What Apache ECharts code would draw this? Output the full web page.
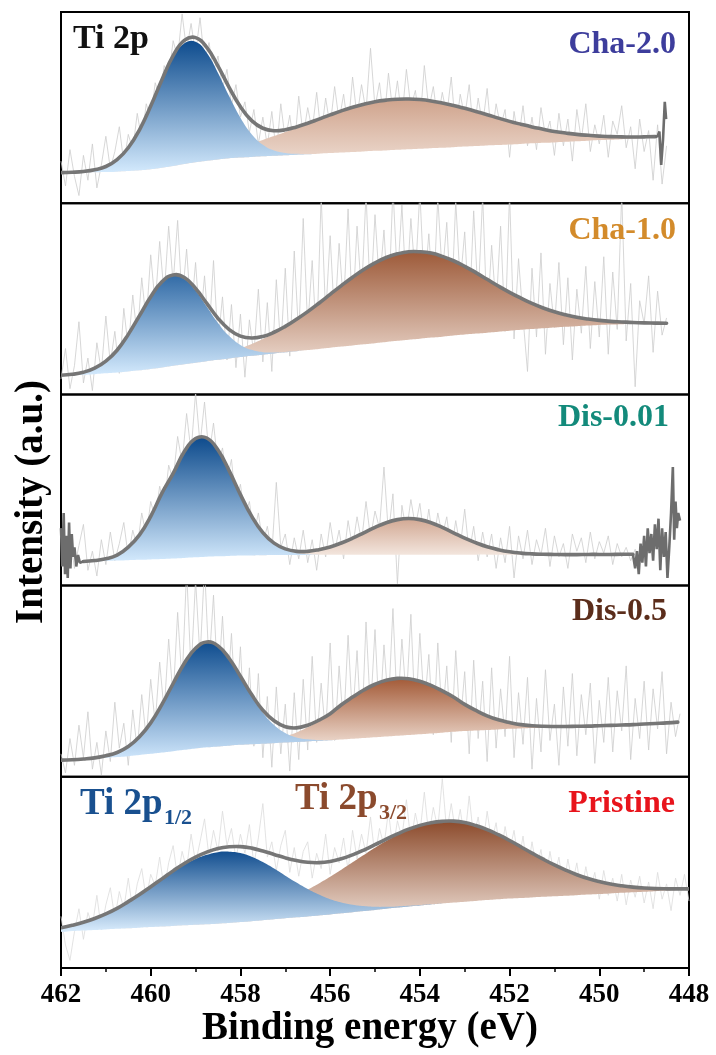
<!DOCTYPE html>
<html><head><meta charset="utf-8">
<script src="https://cdn.jsdelivr.net/npm/echarts@6/dist/echarts.min.js"></script>
<style>html,body{margin:0;padding:0;background:#fff}#c{width:716px;height:1055px}</style>
</head><body><div id="c"></div><script>
// ---------- x grids (binding energy, eV) ----------
const fitX = [462,461.75,461.5,461.25,461,460.75,460.5,460.25,460,459.75,459.5,459.25,459,458.75,458.5,458.25,458,457.75,457.5,457.25,457,456.75,456.5,456.25,456,455.75,455.5,455.25,455,454.75,454.5,454.25,454,453.75,453.5,453.25,453,452.75,452.5,452.25,452,451.75,451.5,451.25,451,450.75,450.5,450.25,450,449.75,449.5,449.25,449,448.75,448.5,448.25,448];
const rawX = [462.0,461.9,461.8,461.7,461.6,461.5,461.4,461.3,461.2,461.1,
461.0,460.9,460.8,460.7,460.6,460.5,460.4,460.3,460.2,460.1,
460.0,459.9,459.8,459.7,459.6,459.5,459.4,459.3,459.2,459.1,
459.0,458.9,458.8,458.7,458.6,458.5,458.4,458.3,458.2,458.1,
458.0,457.9,457.8,457.7,457.6,457.5,457.4,457.3,457.2,457.1,
457.0,456.9,456.8,456.7,456.6,456.5,456.4,456.3,456.2,456.1,
456.0,455.9,455.8,455.7,455.6,455.5,455.4,455.3,455.2,455.1,
455.0,454.9,454.8,454.7,454.6,454.5,454.4,454.3,454.2,454.1,
454.0,453.9,453.8,453.7,453.6,453.5,453.4,453.3,453.2,453.1,
453.0,452.9,452.8,452.7,452.6,452.5,452.4,452.3,452.2,452.1,
452.0,451.9,451.8,451.7,451.6,451.5,451.4,451.3,451.2,451.1,
451.0,450.9,450.8,450.7,450.6,450.5,450.4,450.3,450.2,450.1,
450.0,449.9,449.8,449.7,449.6,449.5,449.4,449.3,449.2,449.1,
449.0,448.9,448.8,448.7,448.6,448.5,448.4,448.3,448.2,448.1,
448.0];
const xTicks = [462,460,458,456,454,452,450,448];

// ---------- Cha-2.0 ----------
const cha20Bg = [16.0,16.1,16.1,16.2,16.3,16.5,16.8,17.2,17.8,18.6,19.5,20.5,21.4,22.2,22.9,23.5,23.9,24.2,24.5,24.8,25.1,25.4,25.6,25.9,26.2,26.5,26.8,27.1,27.4,27.6,27.9,28.2,28.5,28.8,29.0,29.3,29.6,29.9,30.2,30.4,30.7,31.0,31.3,31.6,31.8,32.1,32.4,32.7,33.0,33.2,33.5,33.8,34.1,34.4,null,null,null];
const cha20Blue = [0,0.1,0.4,1.2,2.8,6.1,11.9,20.8,32.4,45.2,56.5,63.1,63.1,56.5,45.2,32.4,20.8,11.9,6.1,2.8,1.2,0.4,0.1,0,0,0,0,0,0,0,0,0,0,0,0,0,0,0,0,0,0,0,0,0,0,0,0,0,0,0,0,0,0,0,null,null,null];
const cha20Brown = [0,0,0.1,0.1,0.1,0.2,0.3,0.4,0.6,0.8,1.2,1.6,2.1,2.8,3.6,4.6,5.7,7.1,8.6,10.3,12.1,14.1,16.1,18.1,20.0,21.8,23.4,24.7,25.7,26.3,26.5,26.3,25.7,24.7,23.4,21.8,20.0,18.1,16.1,14.1,12.1,10.3,8.6,7.1,5.7,4.6,3.6,2.8,2.1,1.6,1.2,0.8,0.6,0.4,null,null,null];
const cha20Fit = [16.0,16.2,16.6,17.5,19.2,22.8,29.0,38.4,50.8,64.6,77.2,85.2,86.6,81.5,71.7,60.5,50.4,43.2,39.2,37.9,38.4,39.9,41.8,44.0,46.2,48.3,50.2,51.8,53.1,53.9,54.4,54.5,54.2,53.5,52.4,51.1,49.6,48.0,46.3,44.5,42.8,41.3,39.9,38.7,37.5,36.7,36.0,35.5,35.1,34.8,34.7,34.6,34.7,34.8,null,null,null];
const cha20Tail = [[448.75,34.8],[448.7,35.0],[448.66,37.5],[448.62,20],[448.58,33],[448.54,53],[448.51,44]];
const cha20Raw = [22,9,28,14,4,25,12,31,8,20,
35,18,27,40,21,36,28,47,33,52,
44,63,55,72,66,85,76,99,80,94,
78,97,74,84,69,77,60,70,51,62,
45,53,37,49,31,45,30,48,26,52,
33,46,28,56,35,50,38,58,36,55,
40,61,43,57,39,66,45,62,48,81,
50,63,42,68,47,64,44,70,50,59,
41,72,49,61,43,58,46,66,38,57,
45,62,36,55,41,60,34,52,40,49,
24,48,33,51,30,45,28,50,35,43,
25,47,30,44,22,49,33,52,27,41,
31,46,24,43,36,51,29,40,18,44,
27,38,12,41,10,30];

// ---------- Cha-1.0 ----------
const cha10Bg = [9.8,10.0,10.3,10.6,11.0,11.4,12.0,12.6,13.3,14.1,15.0,15.8,16.6,17.4,18.1,18.8,19.5,20.2,20.8,21.4,22.0,22.6,23.2,23.8,24.4,25.0,25.6,26.2,26.8,27.4,28.0,28.6,29.1,29.7,30.2,30.8,31.3,31.8,32.3,32.8,33.3,33.8,34.2,34.6,35.0,35.4,35.7,36.0,36.3,36.5,36.7,36.8,36.9,37.0,37.0,null,null];
const cha10Blue = [0.2,0.5,1.3,3.1,6.4,11.7,19.3,28.5,37.6,44.5,47,44.5,37.6,28.5,19.3,11.7,6.4,3.1,1.3,0.5,0.2,0.1,0,0,0,0,0,0,0,0,0,0,0,0,0,0,0,0,0,0,0,0,0,0,0,0,0,0,0,0,0,0,0,0,0,null,null];
const cha10Brown = [0,0,0,0,0,0,0.1,0.1,0.2,0.3,0.5,0.8,1.2,1.7,2.4,3.4,4.6,6.2,8.2,10.6,13.4,16.6,20.1,23.9,27.9,31.9,35.7,39.1,42.0,44.2,45.5,46.0,45.5,44.2,42.0,39.1,35.7,31.9,27.9,23.9,20.1,16.6,13.4,10.6,8.2,6.2,4.6,3.4,2.4,1.7,1.2,0.8,0.5,0.3,0.2,null,null];
const cha10Fit = [10.0,10.5,11.6,13.7,17.4,23.1,31.4,41.2,51.1,58.9,62.5,61.1,55.4,47.6,39.8,33.9,30.5,29.5,30.3,32.5,35.6,39.3,43.3,47.7,52.3,56.9,61.3,65.3,68.8,71.6,73.5,74.6,74.6,73.9,72.2,69.9,67.0,63.7,60.2,56.7,53.4,50.4,47.6,45.2,43.2,41.6,40.3,39.4,38.7,38.2,37.9,37.6,37.4,37.3,37.2,null,null];
const cha10Raw = [8,24,3,15,38,6,19,2,27,12,
41,16,33,11,45,24,52,30,61,38,
73,47,80,52,88,58,91,49,76,42,
69,36,62,31,70,27,51,18,47,14,
42,9,39,21,55,17,48,12,60,24,
66,20,75,30,92,35,70,26,104,41,
83,38,79,46,97,40,88,52,105,48,
94,57,86,45,108,60,99,52,92,61,
106,55,84,48,103,62,90,44,101,58,
85,41,96,50,104,38,78,45,88,33,
105,29,71,40,12,66,30,74,21,58,
35,69,26,61,18,55,32,67,24,59,
30,72,21,64,34,105,28,58,4,49,
37,62,22,54,31,40];

// ---------- Dis-0.01 ----------
const dis001Bg = [null,null,12.5,12.7,12.9,13.1,13.3,13.5,13.7,13.9,14.2,14.5,14.8,15.1,15.3,15.5,15.7,15.8,15.9,16.0,16.0,16.0,16.0,16.1,16.1,16.1,16.1,16.1,16.1,16.1,16.1,16.1,16.1,16.1,16.1,16.1,16.1,16.2,16.2,16.2,16.2,16.2,16.2,16.2,16.2,16.2,16.2,16.3,16.3,16.3,16.4,16.4,null,null,null,null,null];
const dis001Blue = [null,null,0.1,0.4,1.1,2.8,6.8,13.0,22.5,34.5,44.5,55.6,62.1,62.1,55.6,44.5,31.9,20.5,11.7,6.0,2.8,1.1,0.4,0.1,0,0,0,0,0,0,0,0,0,0,0,0,0,0,0,0,0,0,0,0,0,0,0,0,0,0,0,0,null,null,null,null,null];
const dis001Brown = [null,null,0,0,0,0,0,0,0,0,0,0,0,0,0,0,0,0,0.1,0.2,0.4,0.8,1.5,2.6,4.1,6.2,8.7,11.5,14.3,16.8,18.4,19.0,18.4,16.8,14.3,11.5,8.7,6.2,4.1,2.6,1.5,0.8,0.4,0.2,0.1,0,0,0,0,0,0,0,null,null,null,null,null];
const dis001Fit = [null,null,12.6,13.1,14.0,15.9,20.1,26.5,36.2,48.4,58.7,70.1,76.9,77.2,70.9,60.0,47.6,36.3,27.7,22.2,19.2,17.9,17.9,18.8,20.2,22.3,24.8,27.6,30.4,32.9,34.5,35.1,34.5,32.9,30.4,27.6,24.8,22.4,20.3,18.8,17.7,17.0,16.6,16.4,16.3,16.2,16.2,16.3,16.3,16.3,16.4,16.4,null,null,null,null,null];
const dis001TailL = [[462.0,30],[461.97,10],[461.94,38],[461.91,6],[461.88,26],[461.85,4],[461.82,33],[461.79,9],[461.76,27],[461.73,15],[461.7,20],[461.66,10],[461.62,16],[461.58,12],[461.5,12.6]];
const dis001TailR = [[449.25,16.4],[449.2,9],[449.16,18],[449.12,6],[449.08,22],[449.04,12],[449.0,26],[448.96,10],[448.92,30],[448.88,17],[448.84,27],[448.8,13],[448.76,32],[448.72,19],[448.68,35],[448.64,8],[448.6,30],[448.56,15],[448.52,28],[448.48,4],[448.44,20],[448.4,38],[448.36,62],[448.33,24],[448.3,44],[448.27,30],[448.24,38],[448.2,34]];
const dis001Raw = [30,14,26,9,21,32,8,18,5,24,
11,28,13,22,33,15,29,20,38,26,
44,35,52,41,63,55,78,64,90,70,
101,74,96,68,85,63,72,55,66,43,
53,36,44,27,38,22,31,17,54,20,
27,11,25,14,29,12,24,8,27,15,
33,18,29,14,34,20,36,23,44,25,
39,30,62,27,48,1,42,28,45,31,
43,24,40,22,38,26,36,18,34,20,
40,17,31,13,28,15,27,9,25,12,
31,4,26,14,29,11,24,16,30,10,
26,15,22,9,27,18,25,12,28,14,
23,17,26,11,22,15,20,13,19,14,
16];

// ---------- Dis-0.5 ----------
const dis05Bg = [8.7,8.9,9.2,9.5,9.9,10.3,10.8,11.4,12.0,12.7,13.4,14.1,14.8,15.4,15.9,16.3,16.7,17.0,17.3,17.6,17.9,18.2,18.5,18.8,19.1,19.5,19.9,20.3,20.7,21.1,21.5,21.9,22.3,22.7,23.1,23.5,23.9,24.2,24.5,24.8,25.1,25.3,25.5,25.7,25.9,26.1,26.3,26.5,26.7,26.9,27.1,27.3,27.6,27.9,28.2,28.6,null];
const dis05Blue = [0,0,0.1,0.4,1.1,2.4,5.0,9.5,16.2,25.2,35.4,45.3,52.4,55,52.4,45.3,35.4,25.2,16.2,9.5,5.0,2.4,1.1,0.4,0.1,0,0,0,0,0,0,0,0,0,0,0,0,0,0,0,0,0,0,0,0,0,0,0,0,0,0,0,0,0,0,0,null];
const dis05Brown = [0,0,0,0,0,0,0,0,0,0,0,0,0,0.1,0.2,0.3,0.5,0.8,1.3,2.2,3.3,5.0,7.4,10.4,13.8,18.2,21.8,25.1,27.7,29.4,30,29.4,27.7,25.1,21.8,18.2,14.0,10.5,7.4,5.0,3.3,2.0,1.2,0.7,0.4,0.2,0.1,0,0,0,0,0,0,0,0,0,null];
const dis05Fit = [8.7,8.9,9.3,9.9,11.0,12.7,15.8,20.9,28.2,37.9,48.8,59.4,67.2,70.5,68.5,61.9,52.6,43.0,34.8,29.3,26.2,25.6,27.0,29.6,33.0,37.7,41.7,45.4,48.4,50.5,51.5,51.3,50.0,47.8,44.9,41.7,37.9,34.7,31.9,29.8,28.4,27.3,26.7,26.4,26.3,26.3,26.4,26.5,26.7,26.9,27.1,27.3,27.6,27.9,28.2,28.6,null];
const dis05Raw = [12,2,20,6,27,10,34,4,18,1,
24,8,39,15,28,6,35,14,43,20,
51,28,60,34,72,41,86,49,108,55,
103,62,110,58,95,46,84,40,75,33,
68,21,57,16,54,10,42,5,47,12,
38,3,44,9,51,14,63,18,49,22,
70,19,58,26,74,30,66,21,81,34,
77,28,69,37,88,33,72,40,85,29,
75,36,64,22,70,30,58,18,66,27,
55,12,61,20,50,8,57,15,46,21,
63,10,44,17,52,4,41,13,56,19,
38,6,47,16,54,11,43,22,49,7,
40,18,52,13,45,24,58,9,41,20,
50,14,46,25,55,12,39,21,33];

// ---------- Pristine ----------
const priBg = [19.0,19.3,19.6,19.9,20.2,20.5,20.8,21.1,21.4,21.7,22.0,22.3,22.6,22.9,23.2,23.5,24.0,24.5,25.0,25.5,26.0,26.5,27.0,27.5,28.0,28.6,29.2,29.8,30.4,31.0,31.6,32.2,32.7,33.2,33.7,34.2,34.7,35.1,35.5,35.9,36.3,36.6,36.9,37.2,37.5,37.8,38.1,38.4,38.7,39.0,39.3,39.6,39.9,40.2,40.5,40.8,41.0];
const priBlue = [2.0,3.0,4.3,6.0,8.1,10.7,13.8,17.2,20.9,24.6,28.3,31.7,34.4,36.3,37.4,37.3,36.1,33.7,30.4,26.5,22.3,18.2,14.3,10.9,8.0,5.7,3.9,2.6,1.6,1.0,0.6,0.3,0.2,0.1,0,0,0,0,0,0,0,0,0,0,0,0,0,0,0,0,0,0,0,0,0,0,0];
const priBrown = [0,0,0,0,0,0,0.1,0.1,0.2,0.3,0.5,0.7,1.0,1.4,1.9,2.6,3.4,4.5,5.8,7.4,9.3,11.5,14.0,16.7,19.7,22.8,26.1,29.3,32.5,35.4,37.9,40.1,41.7,42.7,43,42.6,41.4,39.4,36.9,33.8,30.4,26.8,23.2,19.7,16.4,13.4,10.7,8.4,6.5,4.9,3.7,2.7,1.9,1.3,0.9,0.6,0.4];
const priFit = [21.0,22.3,23.9,25.9,28.3,31.2,34.7,38.4,42.5,46.6,50.8,54.7,58.0,60.6,62.5,63.4,63.5,62.7,61.2,59.4,57.6,56.2,55.3,55.1,55.7,57.1,59.2,61.7,64.5,67.4,70.1,72.6,74.6,76.0,76.7,76.8,76.1,74.5,72.4,69.7,66.7,63.4,60.1,56.9,53.9,51.2,48.8,46.8,45.2,43.9,43.0,42.3,41.8,41.5,41.4,41.4,41.4];
const priRaw = [27,12,4,19,31,15,29,22,38,20,
33,42,26,40,31,47,30,44,52,36,
49,43,58,41,55,64,47,61,52,70,
55,66,78,58,72,61,82,64,73,57,
70,60,75,54,68,86,58,66,51,64,
72,50,63,48,61,66,47,60,52,70,
49,63,55,68,51,72,57,70,60,79,
58,73,64,82,62,77,68,88,66,81,
70,92,69,84,73,99,71,86,70,83,
67,90,68,79,63,82,66,76,58,74,
61,72,55,69,50,66,52,62,45,61,
48,58,42,57,44,55,39,53,41,50,
36,51,38,47,35,49,33,46,37,48,
34,45,31,50,36,44,30,47,38,49,
35];

const panelNames = ['Cha-2.0','Cha-1.0','Dis-0.01','Dis-0.5','Pristine'];

// ---------- styling ----------
const SERIF = '"Liberation Serif","Times New Roman",serif';
const panels = [
  {bg:cha20Bg, blue:cha20Blue, brown:cha20Brown, fit:cha20Fit, raw:cha20Raw, tails:[cha20Tail],
   blueTop:'#0e4c8e', blueBot:'#d4eafd', brownTop:'#cfa38c', brownBot:'#f2e3da', rawColor:'#cdcdcd',
   label:{color:'#3d3d9c', x:676, y:45}},
  {bg:cha10Bg, blue:cha10Blue, brown:cha10Brown, fit:cha10Fit, raw:cha10Raw, tails:[],
   blueTop:'#336ca7', blueBot:'#d4eafd', brownTop:'#9d5a39', brownBot:'#f2e3da', rawColor:'#cdcdcd',
   label:{color:'#d38b2b', x:676, y:231}},
  {bg:dis001Bg, blue:dis001Blue, brown:dis001Brown, fit:dis001Fit, raw:dis001Raw, tails:[dis001TailL, dis001TailR],
   blueTop:'#0c4a8c', blueBot:'#d4eafd', brownTop:'#d2a893', brownBot:'#f3e6de', rawColor:'#cdcdcd',
   label:{color:'#138a7b', x:669, y:418}},
  {bg:dis05Bg, blue:dis05Blue, brown:dis05Brown, fit:dis05Fit, raw:dis05Raw, tails:[],
   blueTop:'#0f4d8f', blueBot:'#d0e7fc', brownTop:'#a35a37', brownBot:'#f2e2d8', rawColor:'#cdcdcd',
   label:{color:'#5b2d1b', x:667, y:612}},
  {bg:priBg, blue:priBlue, brown:priBrown, fit:priFit, raw:priRaw, tails:[],
   blueTop:'#134f90', blueBot:'#daedfd', brownTop:'#8c4b2c', brownBot:'#f4e7df', rawColor:'#dcdcdc',
   label:{color:'#e8141c', x:675, y:804}}
];

const grad = (a,b) => new echarts.graphic.LinearGradient(0,0,0,1,[{offset:0,color:a},{offset:1,color:b}]);
const zip = (xs, ys) => ys.map((y,j) => [xs[j], y]);

// filled component: area between background and background + component, mapped through the axes
function fillItem(bg, comp, top, bot) {
  return function (params, api) {
    let first = -1, last = -1;
    for (let j = 0; j < fitX.length; j++) {
      if (bg[j] == null || comp[j] == null) continue;
      if (comp[j] > 0) { if (first < 0) first = j; last = j; }
    }
    if (first < 0) return null;
    first = Math.max(0, first - 1); last = Math.min(fitX.length - 1, last + 1);
    const up = [], dn = [];
    for (let j = first; j <= last; j++) {
      if (bg[j] == null || comp[j] == null) continue;
      up.push(api.coord([fitX[j], bg[j] + comp[j]]));
      dn.push(api.coord([fitX[j], bg[j]]));
    }
    return {type:'polygon', shape:{points:up.concat(dn.reverse()), smooth:0.45},
      style:{fill:grad(top, bot), stroke:null}};
  };
}
function curveItem(ys, color, width) {
  return function (params, api) {
    const pts = [];
    for (let j = 0; j < fitX.length; j++) if (ys[j] != null) pts.push(api.coord([fitX[j], ys[j]]));
    return {type:'polyline', shape:{points:pts, smooth:0.45},
      style:{stroke:color, lineWidth:width, fill:'none', lineJoin:'round', lineCap:'round'}};
  };
}

const H = 191.2, TOP = 12;
const grids = [], xAxes = [], yAxes = [], series = [];
panels.forEach((p,i) => {
  const last = i === panels.length - 1;
  grids.push({left:61, width:628, top:TOP + i*H, height:H, show:true, borderColor:'#000', borderWidth:2,
    backgroundColor:'rgba(0,0,0,0)', containLabel:false, outerBoundsMode:'none'});
  xAxes.push({gridIndex:i, type:'value', min:448, max:462, interval:2, inverse:true,
    axisLine:{show:last, onZero:false, lineStyle:{color:'#000', width:2}},
    axisTick:{show:last, inside:false, length:8, lineStyle:{color:'#000', width:2}},
    minorTick:{show:last, splitNumber:2, length:4, lineStyle:{color:'#000', width:1.5}},
    axisLabel:{show:last, margin:14, color:'#000', fontFamily:SERIF, fontWeight:'bold', fontSize:27,
      formatter: v => xTicks.indexOf(v) >= 0 ? String(v) : ''},
    splitLine:{show:false}, minorSplitLine:{show:false}});
  yAxes.push({gridIndex:i, type:'value', min:0, max:100, show:false, splitLine:{show:false}});
  series.push({type:'line', xAxisIndex:i, yAxisIndex:i, data:zip(rawX, p.raw), symbol:'none', silent:true,
    lineStyle:{color:p.rawColor, width:0.8}, z:1});
  const cust = {type:'custom', coordinateSystem:'cartesian2d', xAxisIndex:i, yAxisIndex:i, data:[[455, 50]],
    silent:true, clip:true};
  series.push(Object.assign({}, cust, {z:2, renderItem:fillItem(p.bg, p.brown, p.brownTop, p.brownBot)}));
  series.push(Object.assign({}, cust, {z:3, renderItem:fillItem(p.bg, p.blue, p.blueTop, p.blueBot)}));
  series.push(Object.assign({}, cust, {z:4, renderItem:curveItem(p.fit, '#767676', 3.6)}));
  p.tails.forEach(t => series.push({type:'line', xAxisIndex:i, yAxisIndex:i, data:t, symbol:'none', silent:true,
    lineStyle:{color:'#6d6d6d', width:2.6}, z:4}));
});

const txt = (text, x, y, size, color, align, extra) => Object.assign({
  type:'text', x:x, y:y, z:100, silent:true,
  style:{text:text, font:'bold ' + size + 'px ' + SERIF, fill:color, align:align, textAlign:align,
    verticalAlign:'middle', textVerticalAlign:'middle'}}, extra || {});

const graphic = [
  txt('Ti 2p', 73, 39, 34, '#111', 'left'),
  txt('Ti 2p', 80, 804, 37, '#19508f', 'left'),
  txt('1/2', 164, 818, 22, '#19508f', 'left'),
  txt('Ti 2p', 295, 799, 37, '#8b4a2d', 'left'),
  txt('3/2', 379, 813, 22, '#8b4a2d', 'left'),
  txt('Intensity (a.u.)', 32, 502, 39, '#000', 'center', {rotation: Math.PI/2}),
  txt('Binding energy (eV)', 370, 1029, 39, '#000', 'center')
];
panels.forEach((p,i) => graphic.push(txt(panelNames[i], p.label.x, p.label.y, 32, p.label.color, 'right')));

const chart = echarts.init(document.getElementById('c'), null, {renderer:'canvas'});
chart.setOption({animation:false, backgroundColor:'#fff', grid:grids, xAxis:xAxes, yAxis:yAxes, series:series, graphic:graphic});
</script></body></html>
